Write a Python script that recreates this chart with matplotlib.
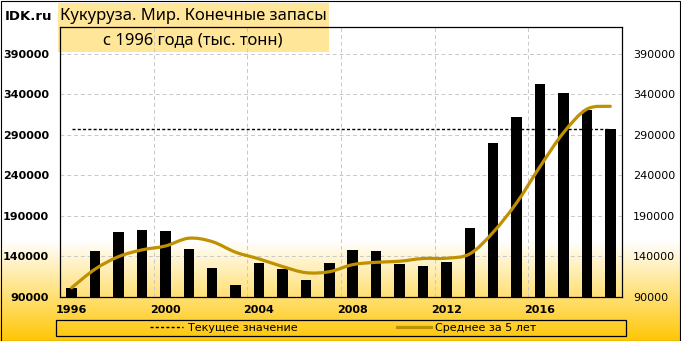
import numpy as np
import matplotlib
matplotlib.use("Agg")
import matplotlib.pyplot as plt
from matplotlib.path import Path
from matplotlib.patches import PathPatch, Rectangle
from matplotlib.lines import Line2D

# данные (тыс. тонн)
years = list(range(1996, 2020))
stocks = [101500, 147200, 170600, 173100, 171900, 149600, 126200, 105200,
          132300, 124900, 111400, 132300, 148400, 147200, 131100, 128600,
          133600, 175600, 280500, 312600, 352100, 342200, 321200, 297800]
avg_5y = [101500, 124400, 139800, 148100, 152900, 162500, 158300, 145200,
          137000, 127600, 120000, 121200, 129900, 132800, 134100, 137500,
          137800, 143200, 169900, 206200, 250900, 292600, 321700, 325200]
current_value = 297800
y_ticks = [90000, 140000, 190000, 240000, 290000, 340000, 390000]
x_label_years = [1996, 2000, 2004, 2008, 2012, 2016]

title_1 = "Кукуруза. Мир. Конечные запасы"
title_2 = "с 1996 года (тыс. тонн)"
legend_labels = ["Текущее значение", "Среднее за 5 лет"]

GOLD = "#BF9000"
GRID = "#C8C8C8"
W, H = 681, 341


def smooth_path(xs, ys):
    # сглаживание как в Excel: кривые Безье через все точки
    pts = np.column_stack([xs, ys]).astype(float)
    ext = np.vstack([pts[0], pts, pts[-1]])
    verts = [pts[0]]
    codes = [Path.MOVETO]
    for i in range(len(pts) - 1):
        p0, p1, p2, p3 = ext[i], ext[i + 1], ext[i + 2], ext[i + 3]
        verts += [p1 + (p2 - p0) / 6, p2 - (p3 - p1) / 6, p2]
        codes += [Path.CURVE4] * 3
    return Path(verts, codes)


fig = plt.figure(figsize=(W / 100, H / 100), dpi=100)

# фон с градиентом
bg = fig.add_axes([0, 0, 1, 1], zorder=-2)
top_c = np.array([1.0, 1.0, 1.0])
bot_c = np.array([1.0, 0.78, 0.02])
rows = np.ones((H, 1, 3))
start = 240
for r in range(start, H):
    f = (r - start) / (H - 1 - start)
    rows[r, 0] = top_c + (bot_c - top_c) * f
bg.imshow(rows, aspect="auto", extent=[0, 1, 0, 1])
bg.set_xlim(0, 1)
bg.set_ylim(0, 1)
bg.axis("off")

# рамка всего графика
fig.patches.append(Rectangle((0.5 / W, 0.5 / H), 1 - 1.5 / W, 1 - 1.5 / H,
                             transform=fig.transFigure, fill=False,
                             edgecolor="black", lw=0.8, zorder=5))

# плашка заголовка
fig.patches.append(Rectangle((58 / W, 1 - 52 / H), 271 / W, 49 / H,
                             transform=fig.transFigure, facecolor="#FFE699",
                             edgecolor="none", zorder=-1))
fig.text(193 / W, 1 - 16 / H, title_1, ha="center", va="center",
         fontsize=11.9, family=["Noto Sans", "DejaVu Sans"])
fig.text(193 / W, 1 - 40 / H, title_2, ha="center", va="center",
         fontsize=11.9, family=["Noto Sans", "DejaVu Sans"])
fig.text(5 / W, 1 - 16 / H, "IDK.ru", ha="left", va="center",
         fontsize=9.5, fontweight="bold")

ax = fig.add_axes([60 / W, 1 - 297 / H, 562 / W, 270 / H])
ax.set_facecolor("none")
x = np.arange(len(years))

ax.bar(x, stocks, width=0.45, color="black", zorder=3)
ax.hlines(current_value, x[0], x[-1], colors="black", lw=1,
          linestyles=(0, (2.2, 1.6)), zorder=4)
ax.add_patch(PathPatch(smooth_path(x, avg_5y), facecolor="none",
                       edgecolor=GOLD, lw=2.3, zorder=5, capstyle="round"))

ax.set_xlim(-0.5, len(years) - 0.5)
ax.set_ylim(90000, 423000)

ax.set_yticks(y_ticks)
ax.set_yticklabels([str(v) for v in y_ticks])
ax.set_xticks([years.index(y) for y in x_label_years])
ax.set_xticklabels([str(y) for y in x_label_years], fontweight="bold", fontsize=8)
ax.set_xticks([3.5, 7.5, 11.5, 15.5, 19.5], minor=True)
ax.tick_params(axis="both", which="both", length=0)
ax.tick_params(axis="x", pad=6)
ax.tick_params(axis="y", labelright=True, pad=8, labelsize=8)
for t in ax.yaxis.get_major_ticks():
    t.label1.set_fontweight("bold")
    t.label2.set_fontweight("normal")

ax.grid(True, which="major", axis="y", color=GRID, lw=0.7,
        linestyle=(0, (4, 3)), zorder=1)
ax.grid(True, which="minor", axis="x", color=GRID, lw=0.7,
        linestyle=(0, (4, 3)), zorder=1)
ax.set_axisbelow(True)
for s in ax.spines.values():
    s.set_color("black")
    s.set_linewidth(0.9)

# легенда внизу
fig.patches.append(Rectangle((56 / W, 5 / H), 570 / W, 16 / H,
                             transform=fig.transFigure, fill=False,
                             edgecolor="black", lw=0.9, zorder=2))
handles = [Line2D([], [], color="black", lw=1, linestyle=(0, (2.2, 1.6))),
           Line2D([], [], color=GOLD, lw=2.3)]
fig.legend(handles, legend_labels, loc="center",
           bbox_to_anchor=(343 / W, 1 - 328 / H), ncol=2, frameon=False,
           fontsize=8, handlelength=3, columnspacing=9, handletextpad=0.4,
           borderpad=0, borderaxespad=0)

fig.savefig("out.png", dpi=100)
